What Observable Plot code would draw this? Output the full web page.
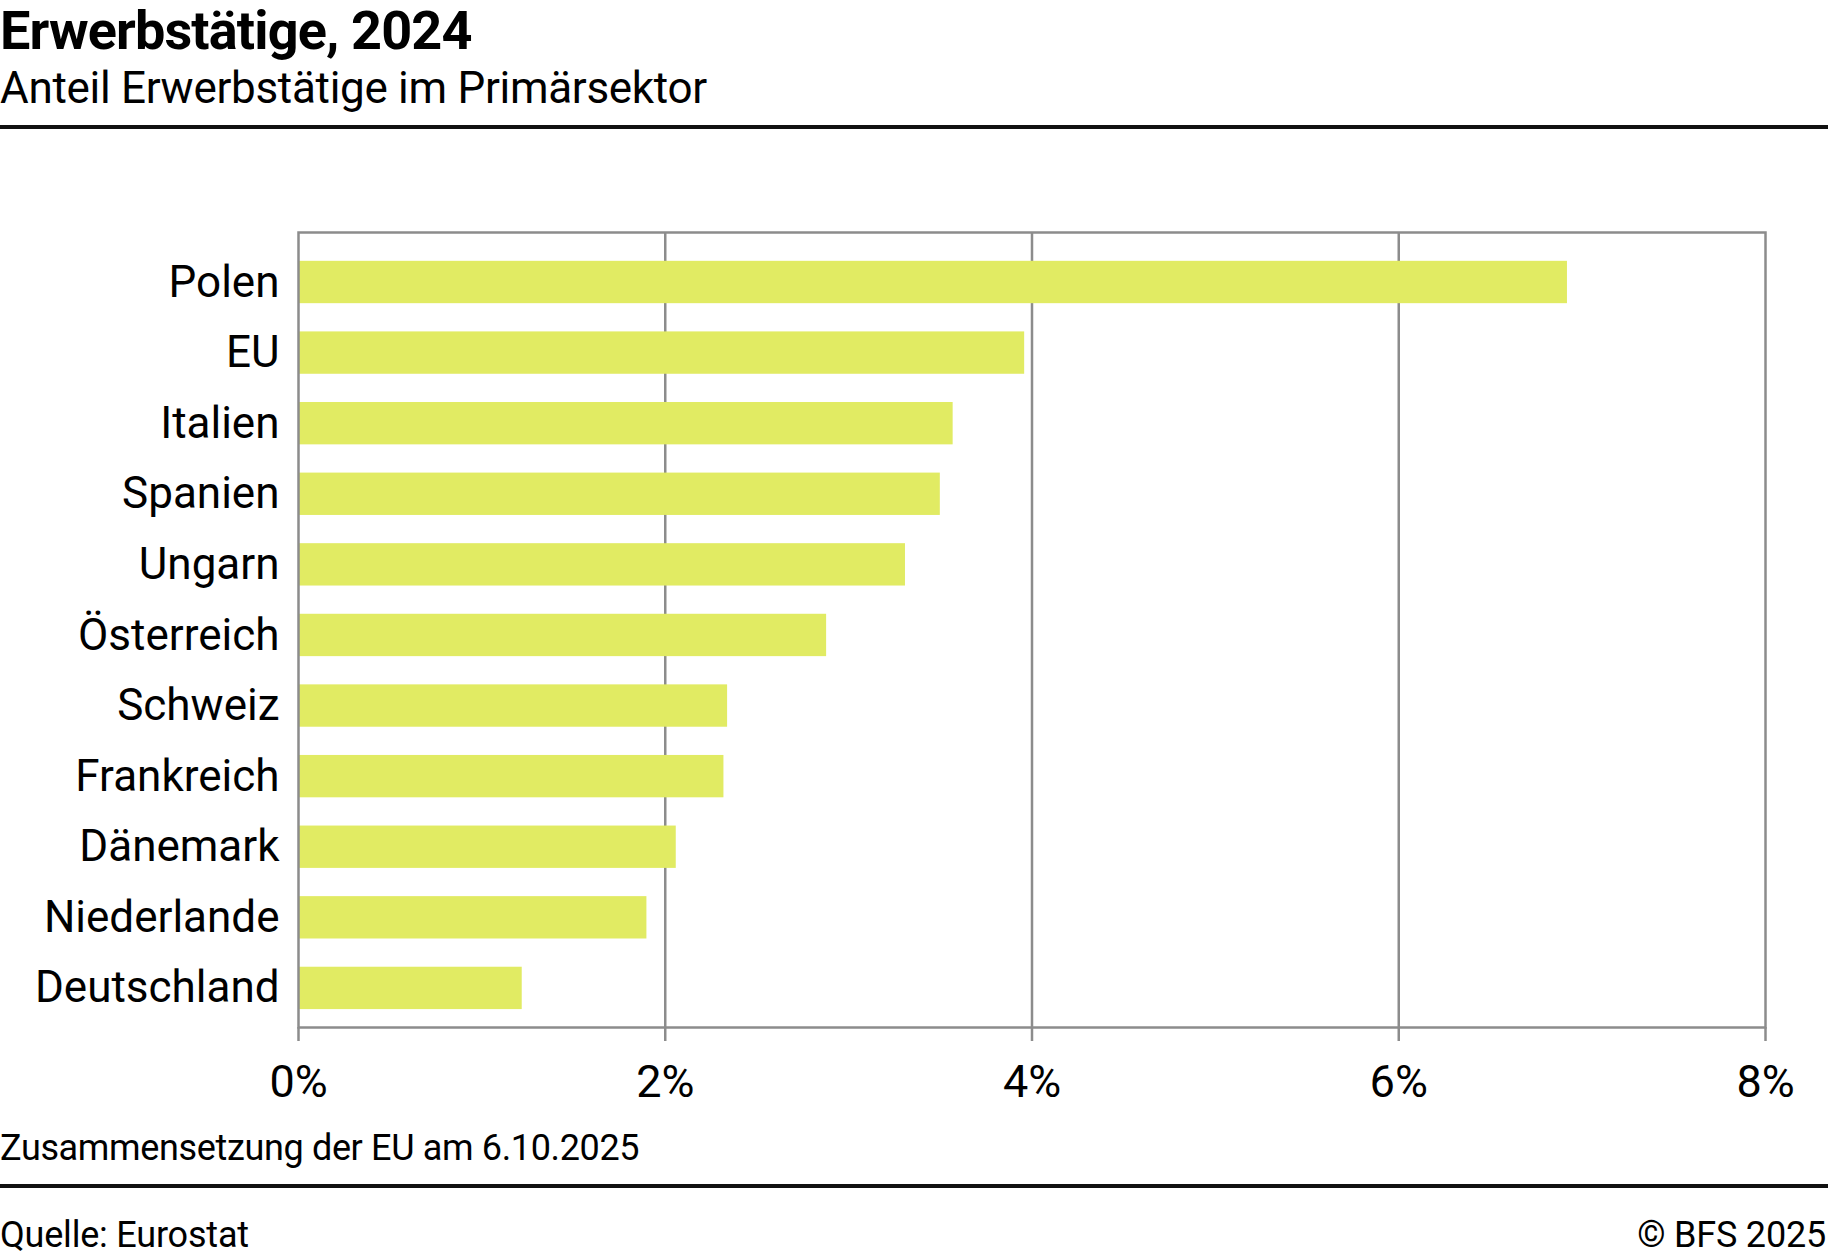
<!DOCTYPE html>
<html>
<head>
<meta charset="utf-8">
<script src="https://cdn.jsdelivr.net/npm/d3@7"></script>
<script src="https://cdn.jsdelivr.net/npm/@observablehq/plot@0.6"></script>
<style>
  html, body { margin: 0; padding: 0; background: #fff; }
  body { width: 1828px; height: 1260px; position: relative; overflow: hidden; font-family: Roboto, sans-serif; color: #000; }
  .t { position: absolute; left: 0; line-height: 1; white-space: nowrap; }
  #title { top: 3.5px; font-size: 54px; font-weight: 700; letter-spacing: -0.85px; }
  #subtitle { top: 65.5px; font-size: 44px; font-weight: 400; letter-spacing: -0.3px; }
  .rule { position: absolute; left: 0; width: 1828px; height: 4px; background: #111; }
  #rule1 { top: 125px; }
  #rule2 { top: 1184px; }
  #chart { position: absolute; left: 0; top: 140px; }
  #caption { top: 1129.5px; font-size: 36px; letter-spacing: -0.35px; }
  #source { top: 1216.5px; font-size: 36px; letter-spacing: -0.2px; }
  #copy { top: 1216.5px; font-size: 36px; left: auto; right: 2px; letter-spacing: -0.2px; }
</style>
</head>
<body>
<div class="t" id="title">Erwerbstätige, 2024</div>
<div class="t" id="subtitle">Anteil Erwerbstätige im Primärsektor</div>
<div class="rule" id="rule1"></div>
<div id="chart"></div>
<div class="t" id="caption">Zusammensetzung der EU am 6.10.2025</div>
<div class="rule" id="rule2"></div>
<div class="t" id="source">Quelle: Eurostat</div>
<div class="t" id="copy">© BFS 2025</div>
<script>
const countries = ["Polen", "EU", "Italien", "Spanien", "Ungarn", "Österreich", "Schweiz", "Frankreich", "Dänemark", "Niederlande", "Deutschland"];
const shares = [6.92, 3.96, 3.57, 3.50, 3.31, 2.88, 2.34, 2.32, 2.06, 1.90, 1.22];
const xTicks = [0, 2, 4, 6, 8];
const gridTicks = [2, 4, 6];

const data = countries.map((c, i) => ({country: c, share: shares[i]}));
const grey = "#8c8c8c";

const chart = Plot.plot({
  width: 1828,
  height: 980,
  marginTop: 92,
  marginBottom: 93,
  marginLeft: 298,
  marginRight: 63,
  style: {fontFamily: "Roboto, sans-serif", background: "#fff", color: "#000"},
  x: {domain: [0, 8], ticks: xTicks, tickFormat: d => d + "%"},
  y: {domain: countries, range: [106.7, 883.2], paddingInner: 0.4, paddingOuter: 0.2, round: false},
  marks: [
    Plot.ruleX(gridTicks, {stroke: grey, strokeWidth: 2.5}),
    Plot.barX(data, {x: "share", y: "country", fill: "#e1eb63"}),
    Plot.frame({stroke: grey, strokeWidth: 2.5}),
    Plot.axisX({ticks: xTicks, tickFormat: d => d + "%", tickSize: 14, tickPadding: 24, stroke: grey, strokeWidth: 2.5, fill: "#000", fontSize: 45, label: null}),
    Plot.axisY({tickSize: 0, tickPadding: 19, fill: "#000", fontSize: 44, label: null})
  ]
});
document.getElementById("chart").appendChild(chart);
</script>
</body>
</html>
